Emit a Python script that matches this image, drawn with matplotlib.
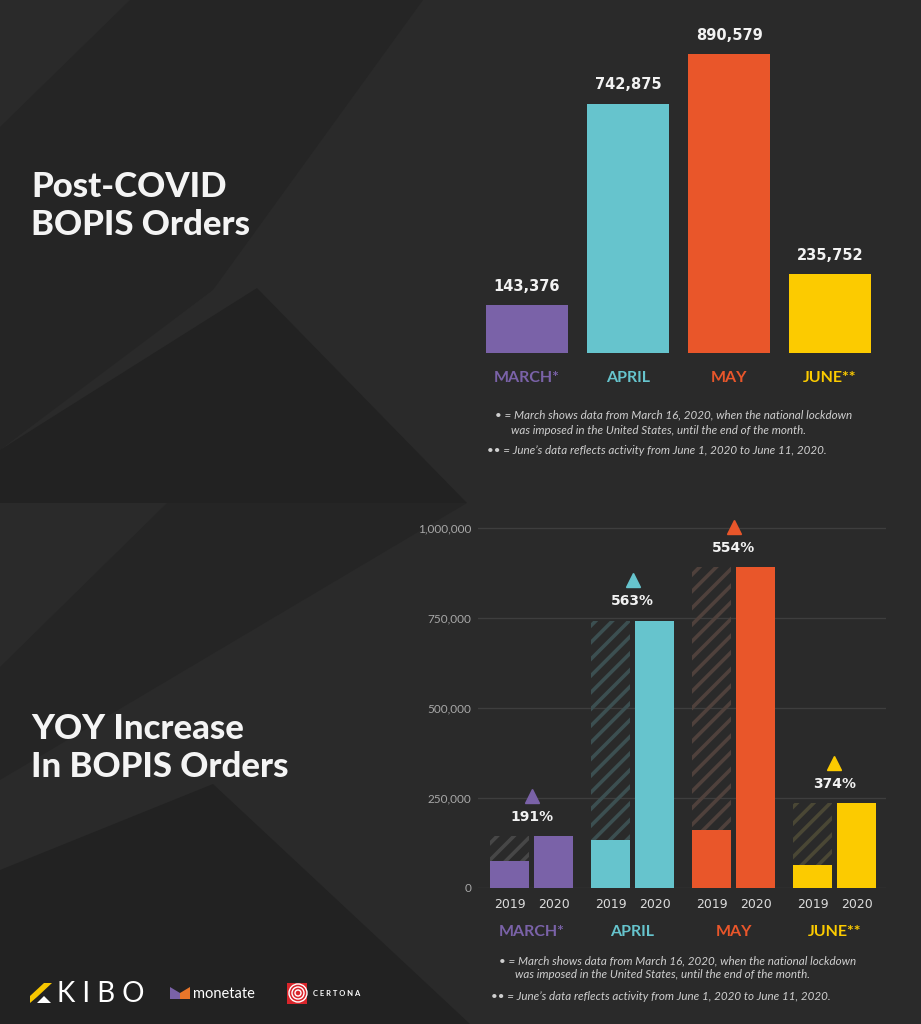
import numpy as np
import matplotlib.pyplot as plt
from matplotlib.patches import Polygon, Rectangle, Circle
from matplotlib.transforms import offset_copy

# data
months = ['MARCH*', 'APRIL', 'MAY', 'JUNE**']
orders_2020 = [143376, 742875, 890579, 235752]
orders_2019 = [75000, 132000, 161000, 63000]
yoy_labels = ['191%', '563%', '554%', '374%']
years = ['2019', '2020']

colors = ['#7a62a8', '#66c4cd', '#e9562a', '#fccb00']
hatch_colors = ['#474747', '#3c4f51', '#4f413c', '#4a4735']

BG = '#2a2a2a'
FN = ['Lato', 'DejaVu Sans']
W, H = 921, 1024

plt.rcParams['hatch.linewidth'] = 2.6

fig = plt.figure(figsize=(W / 100, H / 100), dpi=100, facecolor=BG)

# background layer in pixel coords
bg = fig.add_axes([0, 0, 1, 1], zorder=0)
bg.set_xlim(0, W)
bg.set_ylim(H, 0)
bg.axis('off')
bg.set_facecolor(BG)

shapes = [
    ([(0, 127), (130, 0), (423, 0), (213, 290), (0, 450)], '#252525'),
    ([(0, 450), (257, 288), (467, 503), (0, 503)], '#222222'),
    ([(167, 503), (467, 503), (0, 780), (0, 667)], '#252525'),
    ([(0, 870), (213, 784), (470, 1024), (0, 1024)], '#222222'),
]
for pts, c in shapes:
    bg.add_patch(Polygon(pts, closed=True, facecolor=c, edgecolor='none'))

# titles
tkw = dict(color='#f4f4f4', fontsize=25, fontweight='black', family=FN,
           va='center', ha='left', linespacing=1.2)
bg.text(31, 206, 'Post-COVID\nBOPIS Orders', **tkw)
bg.text(31, 748, 'YOY Increase\nIn BOPIS Orders', **tkw)

# footnotes
def footnote(x0, y0, gap):
    kw = dict(color='#cfcfcf', fontsize=8.4, style='italic', family=FN, va='center')
    bg.text(x0, y0, '\u2022 = March shows data from March 16, 2020, when the national lockdown', **kw)
    bg.text(x0 + 16, y0 + gap, 'was imposed in the United States, until the end of the month.', **kw)
    bg.text(x0 - 8, y0 + 35, '\u2022\u2022 = June\u2019s data reflects activity from June 1, 2020 to June 11, 2020.', **kw)

footnote(495, 415, 15)
footnote(499, 961, 14)

# logos
bg.add_patch(Polygon([(30, 1003), (30, 996), (44, 983), (52, 983), (37, 997)],
                     facecolor='#f7c600', edgecolor='none'))
bg.add_patch(Polygon([(37, 1003), (51, 1003), (44, 996)], facecolor='#ffffff', edgecolor='none'))
bg.text(57, 994, 'K I B O', color='#ffffff', fontsize=20, fontweight='normal',
        family=FN, va='center', ha='left')
bg.add_patch(Polygon([(170, 987), (180, 993), (180, 999), (170, 999)], facecolor='#7a62a8', edgecolor='none'))
bg.add_patch(Polygon([(180, 993), (190, 987), (190, 999), (180, 999)], facecolor='#e9762a', edgecolor='none'))
bg.text(193, 994, 'monetate', color='#ffffff', fontsize=10.5, family=FN, va='center', ha='left')
bg.add_patch(Rectangle((287, 983), 20, 21, facecolor='#d9252b', edgecolor='none'))
for r in (3, 6, 9):
    bg.add_patch(Circle((298, 993), r, facecolor='none', edgecolor='#ffffff', lw=1))
bg.text(313, 994, 'C E R T O N A', color='#ffffff', fontsize=5.5, fontweight='bold',
        family=FN, va='center', ha='left')

# top chart
ax1 = fig.add_axes([476.5 / W, 1 - 353 / H, 404 / W, 323 / H], zorder=2)
ax1.set_facecolor('none')
x = np.arange(len(months))
ax1.bar(x, orders_2020, width=0.82, color=colors)
for i, v in enumerate(orders_2020):
    ax1.annotate(f'{v:,}', (i, v), xytext=(0, 8), textcoords='offset points',
                 ha='center', va='bottom', color='#f2f2f2', fontsize=10.5,
                 fontweight='bold', family='DejaVu Sans')
ax1.set_xlim(-0.5, 3.5)
ax1.set_ylim(0, 962000)
ax1.set_xticks(x, months)
for t, c in zip(ax1.get_xticklabels(), colors):
    t.set_color(c)
    t.set_fontweight('bold')
    t.set_fontsize(11.5)
    t.set_family(FN)
ax1.tick_params(axis='x', length=0, pad=13)
ax1.set_yticks([])
for s in ax1.spines.values():
    s.set_visible(False)

# bottom chart
ax2 = fig.add_axes([478 / W, 1 - 888 / H, 408 / W, 378 / H], zorder=2)
ax2.set_facecolor('none')
off, bw = 0.218, 0.386
for i in range(len(months)):
    ax2.bar(i - off, orders_2020[i], width=bw, facecolor='none',
            edgecolor=hatch_colors[i], hatch='//', linewidth=0, zorder=2)
    ax2.bar(i - off, orders_2019[i], width=bw, color=colors[i], zorder=3)
    ax2.bar(i + off, orders_2020[i], width=bw, color=colors[i], zorder=3)
    ax2.annotate(yoy_labels[i], (i, orders_2020[i]), xytext=(0, 14), textcoords='offset points',
                 ha='center', va='center', color='#f2f2f2', fontsize=10,
                 fontweight='bold', family='DejaVu Sans')
tri = offset_copy(ax2.transData, fig=fig, y=29, units='points')
for i in range(len(months)):
    ax2.plot(i, orders_2020[i], marker='^', ms=10, color=colors[i],
             transform=tri, clip_on=False, zorder=4)

ax2.set_xlim(-0.53, 3.51)
ax2.set_ylim(0, 1050000)
ticks = [0, 250000, 500000, 750000, 1000000]
ax2.set_yticks(ticks, [f'{t:,}' for t in ticks])
ax2.tick_params(axis='y', length=0, pad=5, labelcolor='#a8a8a8', labelsize=8.5)
for t in ax2.get_yticklabels():
    t.set_family(FN)
ax2.yaxis.grid(True, color='#3e3e3e', lw=1)
ax2.set_axisbelow(True)

ax2.set_xticks(x, months)
for t, c in zip(ax2.get_xticklabels(), colors):
    t.set_color(c)
    t.set_fontweight('bold')
    t.set_fontsize(11.5)
    t.set_family(FN)
ax2.tick_params(axis='x', which='major', length=0, pad=26.5)
minor_pos = np.concatenate([x - off, x + off])
minor_lab = [years[0]] * 4 + [years[1]] * 4
ax2.set_xticks(minor_pos, minor_lab, minor=True)
ax2.tick_params(axis='x', which='minor', length=0, pad=7, labelsize=9, labelcolor='#dcdcdc')
for s in ax2.spines.values():
    s.set_visible(False)

fig.savefig('out.png', dpi=100, facecolor=BG)
